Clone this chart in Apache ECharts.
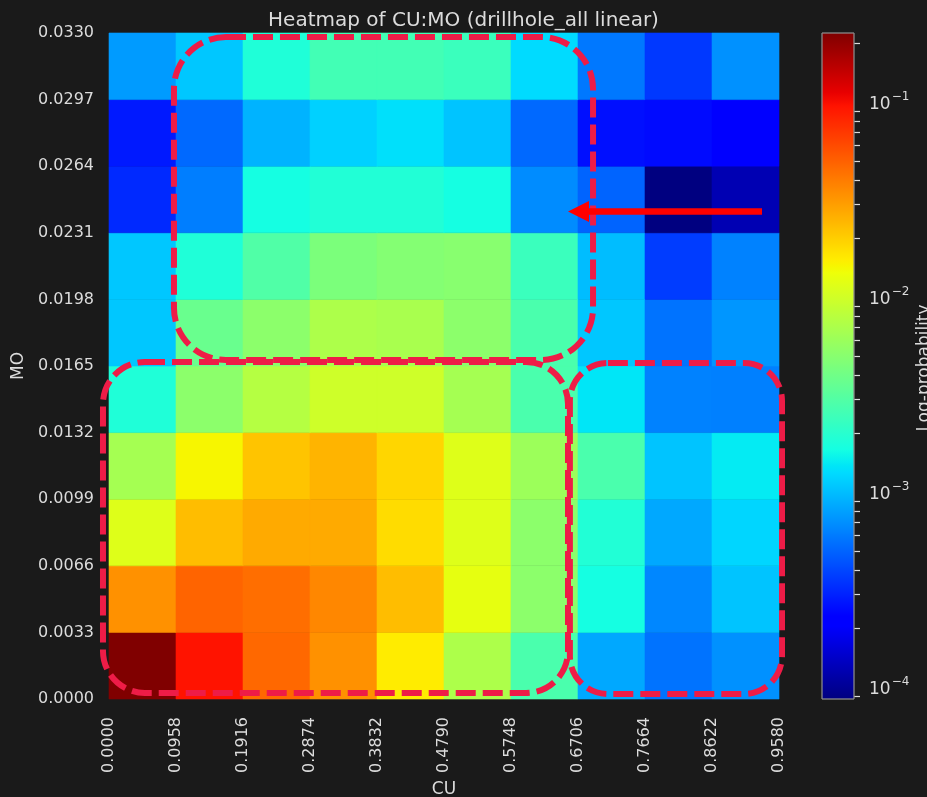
<!DOCTYPE html>
<html><head><meta charset="utf-8">
<script src="https://cdn.jsdelivr.net/npm/echarts@6/dist/echarts.min.js"></script>
<style>html,body{margin:0;padding:0;background:#1a1a1a;}#c{width:927px;height:797px;}</style>
</head><body><div id="c"></div>
<script>
// ---- tick labels / cell edges ----
const cuTicks = [0, 0.0958, 0.1916, 0.2874, 0.3832, 0.4790, 0.5748, 0.6706, 0.7664, 0.8622, 0.9580];
const moTicks = [0, 0.0033, 0.0066, 0.0099, 0.0132, 0.0165, 0.0198, 0.0231, 0.0264, 0.0297, 0.0330];

// ---- probabilities, one array per MO band (bottom to top), CU bins left to right ----
const probMO0 = [0.226, 0.0953, 0.0470, 0.0333, 0.0156, 0.00711, 0.00277, 0.000851, 0.000566, 0.000711];
const probMO1 = [0.0333, 0.0485, 0.0448, 0.0362, 0.0232, 0.0123, 0.00520, 0.00166, 0.000657, 0.00105];
const probMO2 = [0.0114, 0.0232, 0.0271, 0.0271, 0.0179, 0.0114, 0.00520, 0.00187, 0.000851, 0.00121];
const probMO3 = [0.00658, 0.0144, 0.0219, 0.0249, 0.0187, 0.0114, 0.00608, 0.00277, 0.00105, 0.00142];
const probMO4 = [0.00183, 0.00520, 0.00770, 0.00975, 0.00975, 0.00658, 0.00277, 0.00137, 0.000632, 0.000622];
const probMO5 = [0.00108, 0.00373, 0.00520, 0.00711, 0.00684, 0.00520, 0.00277, 0.00108, 0.000566, 0.000740];
const probMO6 = [0.00108, 0.00183, 0.00293, 0.00444, 0.00480, 0.00500, 0.00237, 0.000997, 0.000370, 0.000632];
const probMO7 = [0.000318, 0.000612, 0.00166, 0.00187, 0.00187, 0.00166, 0.000684, 0.000503, 0.0000871, 0.000123];
const probMO8 = [0.000283, 0.000523, 0.000921, 0.00117, 0.00131, 0.00105, 0.000523, 0.000262, 0.000252, 0.000224];
const probMO9 = [0.000769, 0.00108, 0.00183, 0.00256, 0.00256, 0.00237, 0.00126, 0.000589, 0.000359, 0.000711];

// colour bar (log10 of probability)
const cbMin = -4.06, cbMax = -0.645;
const cbMajor = [-4, -3, -2, -1];

// annotations, in data coordinates [CU0, MO0, CU1, MO1]
const boxUpper = [0.0929, 0.0328, 0.6921, 0.0168];
const boxLowerLeft = [-0.0086, 0.0167, 0.6563, 0.0003];
const boxLowerRight = [0.6590, 0.01665, 0.9623, 0.00025];
const arrowFromTo = [0.9337, 0.02416, 0.6563, 0.02416];

// ---- build ----
const probRows = [probMO0, probMO1, probMO2, probMO3, probMO4, probMO5, probMO6, probMO7, probMO8, probMO9];
const cells = [];
probRows.forEach((row, j) => row.forEach((p, i) => {
  cells.push([cuTicks[i], moTicks[j], cuTicks[i + 1], moTicks[j + 1], p, Math.log10(p)]);
}));

const cbMinor = [];
for (let n = -5; n <= 0; n++) for (let k = 2; k <= 9; k++) {
  const v = Math.log10(k) + n;
  if (v > cbMin && v < cbMax) cbMinor.push(v);
}

function jet(t) {
  const seg = {
    r: [[0, 0], [0.35, 0], [0.66, 1], [0.89, 1], [1, 0.5]],
    g: [[0, 0], [0.125, 0], [0.375, 1], [0.64, 1], [0.91, 0], [1, 0]],
    b: [[0, 0.5], [0.11, 1], [0.34, 1], [0.65, 0], [1, 0]]
  };
  const f = s => {
    for (let i = 1; i < s.length; i++) {
      if (t <= s[i][0]) {
        const a = s[i - 1], b = s[i];
        return a[1] + (b[1] - a[1]) * (t - a[0]) / (b[0] - a[0]);
      }
    }
    return s[s.length - 1][1];
  };
  const c = x => Math.round(Math.max(0, Math.min(1, x)) * 255);
  return 'rgb(' + c(f(seg.r)) + ',' + c(f(seg.g)) + ',' + c(f(seg.b)) + ')';
}
const jetColors = [];
for (let i = 0; i <= 200; i++) jetColors.push(jet(i / 200));

const FG = '#dcdcdc';
const FONT = 'DejaVu Sans';

const chart = echarts.init(document.getElementById('c'), null, {renderer: 'canvas'});
chart.setOption({
  backgroundColor: '#1a1a1a',
  animation: false,
  textStyle: {fontFamily: FONT, color: FG},
  title: {
    text: 'Heatmap of CU:MO (drillhole_all linear)',
    left: 'center', top: 6,
    textStyle: {fontFamily: FONT, fontSize: 20, fontWeight: 'normal', color: FG}
  },
  grid: [
    {left: 109, top: 33, width: 670, height: 666, containLabel: false, outerBoundsMode: 'none'},
    {left: 822, top: 33, width: 32, height: 666, containLabel: false, outerBoundsMode: 'none'}
  ],
  xAxis: [
    {
      type: 'value', gridIndex: 0, min: 0, max: 0.958, interval: 0.0958,
      name: 'CU', nameLocation: 'middle', nameGap: 77,
      nameTextStyle: {fontFamily: FONT, fontSize: 17, color: FG},
      axisLine: {show: false}, axisTick: {show: false}, splitLine: {show: false},
      axisLabel: {
        customValues: cuTicks, rotate: 90, margin: 18, fontFamily: FONT, fontSize: 16, color: FG,
        formatter: v => v.toFixed(4)
      }
    },
    {type: 'value', gridIndex: 1, min: 0, max: 1, show: false}
  ],
  yAxis: [
    {
      type: 'value', gridIndex: 0, min: 0, max: 0.033, interval: 0.0033,
      name: 'MO', nameLocation: 'middle', nameGap: 75, nameRotate: 90,
      nameTextStyle: {fontFamily: FONT, fontSize: 17, color: FG},
      axisLine: {show: false}, axisTick: {show: false}, splitLine: {show: false},
      axisLabel: {
        customValues: moTicks, margin: 15, fontFamily: FONT, fontSize: 16, color: FG,
        formatter: v => v.toFixed(4)
      }
    },
    {
      type: 'value', gridIndex: 1, min: cbMin, max: cbMax, position: 'right',
      axisLine: {show: false}, splitLine: {show: false},
      axisTick: {show: true, customValues: cbMajor, length: 8, inside: false, lineStyle: {color: FG, width: 2}},
      axisLabel: {
        customValues: cbMajor, margin: 15, color: FG,
        formatter: v => '{b|10}{s|\u2212' + Math.round(-v) + '}',
        rich: {
          b: {fontFamily: FONT, fontSize: 17, color: FG, lineHeight: 22, verticalAlign: 'bottom'},
          s: {fontFamily: FONT, fontSize: 12, color: FG, verticalAlign: 'top', padding: [0, 0, 0, 1]}
        }
      }
    },
    {
      type: 'value', gridIndex: 1, min: cbMin, max: cbMax, position: 'right',
      axisLine: {show: false}, splitLine: {show: false}, axisLabel: {show: false},
      axisTick: {show: true, customValues: cbMinor, length: 6, lineStyle: {color: FG, width: 1.2}}
    }
  ],
  visualMap: {
    type: 'continuous', show: false, seriesIndex: 0, dimension: 5,
    min: cbMin, max: cbMax, inRange: {color: jetColors}
  },
  series: [
    {
      type: 'custom', xAxisIndex: 0, yAxisIndex: 0,
      encode: {x: [0, 2], y: [1, 3]},
      data: cells,
      renderItem: (params, api) => {
        const a = api.coord([api.value(0), api.value(3)]);
        const b = api.coord([api.value(2), api.value(1)]);
        const col = api.visual('color');
        return {
          type: 'rect',
          shape: {x: a[0], y: a[1], width: b[0] - a[0], height: b[1] - a[1]},
          style: {fill: col, stroke: col, lineWidth: 0.6}
        };
      }
    },
    {
      type: 'custom', xAxisIndex: 1, yAxisIndex: 1,
      encode: {x: [0, 2], y: [1, 3]},
      data: [[0, cbMin, 1, cbMax]],
      renderItem: (params, api) => {
        const a = api.coord([api.value(0), api.value(3)]);
        const b = api.coord([api.value(2), api.value(1)]);
        const stops = jetColors.map((c, i) => ({offset: i / (jetColors.length - 1), color: c}));
        return {
          type: 'rect',
          shape: {x: a[0], y: a[1], width: b[0] - a[0], height: b[1] - a[1]},
          style: {fill: new echarts.graphic.LinearGradient(0, 1, 0, 0, stops), stroke: '#8a8a8a', lineWidth: 0.8}
        };
      }
    }
  ]
});

// annotations positioned through the chart's own scales
function px(x, y) { return chart.convertToPixel({gridIndex: 0}, [x, y]); }
function roundBox(b, r) {
  const p0 = px(b[0], b[1]), p1 = px(b[2], b[3]);
  return {
    type: 'rect', z: 100,
    shape: {x: p0[0], y: p0[1], width: p1[0] - p0[0], height: p1[1] - p0[1], r: r},
    style: {fill: 'none', stroke: '#ee1c47', lineWidth: 6, lineDash: [20, 7]}
  };
}
const aTail = px(arrowFromTo[0], arrowFromTo[1]);
const aTip = px(arrowFromTo[2], arrowFromTo[3]);
const headLen = 21, headHalf = 10.5;
chart.setOption({
  graphic: [
    roundBox(boxUpper, 52),
    roundBox(boxLowerLeft, 42),
    roundBox(boxLowerRight, 38),
    {
      type: 'line', z: 101,
      shape: {x1: aTail[0], y1: aTail[1], x2: aTip[0] + headLen - 1, y2: aTip[1]},
      style: {stroke: '#ff0000', lineWidth: 6.5}
    },
    {
      type: 'polygon', z: 101,
      shape: {points: [[aTip[0], aTip[1]], [aTip[0] + headLen, aTip[1] - headHalf], [aTip[0] + headLen, aTip[1] + headHalf]]},
      style: {fill: '#ff0000'}
    },
    {
      type: 'text', z: 101, x: 925, y: 368, rotation: Math.PI / 2,
      style: {text: 'Log-probability', fill: FG, font: '17px "DejaVu Sans"', textAlign: 'center', textVerticalAlign: 'middle'}
    }
  ]
});
</script>
</body></html>
